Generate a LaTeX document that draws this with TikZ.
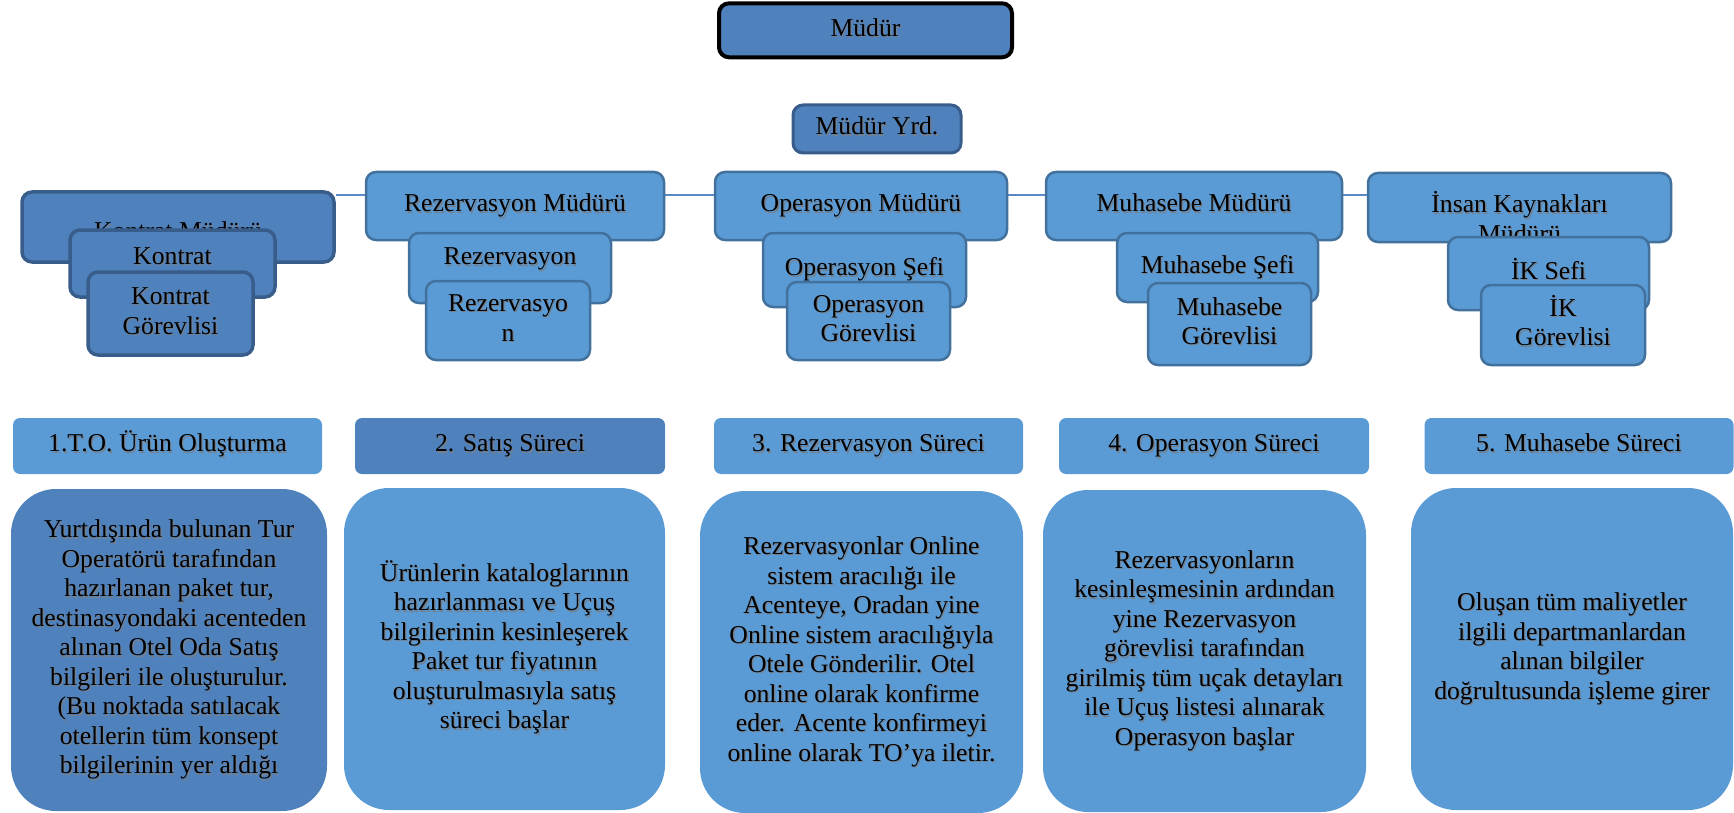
\documentclass[tikz,border=0pt]{standalone}
\usepackage{fontspec}
\setmainfont{Liberation Serif}
\usetikzlibrary{backgrounds}

\definecolor{lightfill}{HTML}{5B9BD5}
\definecolor{darkfill}{HTML}{4F81BD}
\definecolor{lightedge}{HTML}{41719C}
\definecolor{darkedge}{HTML}{385D8A}
\definecolor{linkline}{HTML}{5A8AC6}
\definecolor{textshade}{HTML}{3A4A5C}

% centred block of lines
\newcommand\linesblock[1]{\begin{tabular}{@{}c@{}}#1\end{tabular}}
% the same block with a soft drop shadow behind it
\newcommand\shadedlines[1]{\leavevmode\rlap{\kern1.3pt\raisebox{-1.3pt}[0pt][0pt]{\color{textshade!70}\linesblock{#1}}}\linesblock{#1}}
% optionally lifted without changing its size
\newcommand\boxtext[2][0pt]{\raisebox{#1}[\height][\depth]{\shadedlines{#2}}}

\tikzset{
  every node/.style={font=\fontsize{25.7}{29.5}\selectfont, text=black, inner sep=0pt},
  sz/.style 2 args={minimum width=#1pt, minimum height=#2pt},
  orgbox/.style={rectangle, draw=lightedge, fill=lightfill, line width=2.5pt, rounded corners=10pt},
  orgdark/.style={orgbox, draw=darkedge, fill=darkfill, line width=3.5pt},
  topbox/.style={orgbox, draw=black, fill=darkfill, line width=4pt},
  phase/.style={rectangle, fill=lightfill, rounded corners=7pt},
  phasedark/.style={phase, fill=darkfill},
  detail/.style={rectangle, fill=lightfill, rounded corners=45pt},
  detaildark/.style={detail, fill=darkfill},
  link/.style={draw=linkline, line width=2pt}
}

\begin{document}
\begin{tikzpicture}[x=1pt, y=-1pt]
\useasboundingbox (0,0) rectangle (1734,813);

% management
\node[topbox, sz={293}{54}] (mudur) at (865.5,30.3) {\boxtext{Müdür}};
\node[orgbox, draw=darkedge, fill=darkfill, line width=3pt, sz={168}{48}] (yrd) at (877,129) {\boxtext{Müdür Yrd.}};

% contract department
\node[orgdark, sz={312}{70}] (km) at (178,227) {\boxtext[-7pt]{Kontrat Müdürü}};
\node[orgdark, sz={205}{67}] (ks) at (172.5,263.5) {\boxtext[5pt]{Kontrat}};
\node[orgdark, sz={165}{83}] (kg) at (170.5,313.5) {\boxtext{Kontrat\\Görevlisi}};

% reservation department
\node[orgbox, sz={298}{68}] (rm) at (515,206) {\boxtext{Rezervasyon Müdürü}};
\node[orgbox, sz={202}{70}] (rs) at (510,268) {\boxtext[9pt]{Rezervasyon}};
\node[orgbox, sz={164}{79}] (rg) at (508,320.5) {\boxtext{Rezervasyo\\n}};

% operations department
\node[orgbox, sz={292}{68}] (om) at (861,206) {\boxtext{Operasyon Müdürü}};
\node[orgbox, sz={203}{74}] (os) at (864.5,270) {\boxtext{Operasyon Şefi}};
\node[orgbox, sz={163}{78}] (og) at (868.5,321) {\boxtext{Operasyon\\Görevlisi}};

% accounting department
\node[orgbox, sz={296}{68}] (mm) at (1194,206) {\boxtext{Muhasebe Müdürü}};
\node[orgbox, sz={201}{69}] (ms) at (1217.5,267.5) {\boxtext{Muhasebe Şefi}};
\node[orgbox, sz={163}{82}] (mg) at (1229.5,324) {\boxtext{Muhasebe\\Görevlisi}};

% human resources department
\node[orgbox, sz={303}{69}] (ikm) at (1519.5,207.5) {\boxtext[-14pt]{İnsan Kaynakları\\Müdürü}};
\node[orgbox, sz={201}{73}] (iks) at (1548.5,273.5) {\boxtext{İK Sefi}};
\node[orgbox, sz={164}{80}] (ikg) at (1563,325) {\boxtext{İK\\Görevlisi}};

% line joining the department heads
\begin{scope}[on background layer]
  \draw[link] ([yshift=32pt]km.east) -- ([yshift=12.5pt]ikm.west);
\end{scope}

% process phases
\node[phase, sz={309}{56}] (p1) at (167.5,446) {\boxtext{1.T.O. Ürün Oluşturma}};
\node[phasedark, sz={310}{56}] (p2) at (510,446) {\boxtext{2. Satış Süreci}};
\node[phase, sz={309}{56}] (p3) at (868.5,446) {\boxtext{3. Rezervasyon Süreci}};
\node[phase, sz={310}{56}] (p4) at (1214,446) {\boxtext{4. Operasyon Süreci}};
\node[phase, sz={309}{56}] (p5) at (1579,446) {\boxtext{5. Muhasebe Süreci}};

% phase descriptions
\node[detaildark, sz={316}{322}] (d1) at (169,650) {\boxtext{Yurtdışında bulunan Tur\\Operatörü tarafından\\hazırlanan paket tur,\\destinasyondaki acenteden\\alınan Otel Oda Satış\\bilgileri ile oluşturulur.\\(Bu noktada satılacak\\otellerin tüm konsept\\bilgilerinin yer aldığı}};
\node[detail, sz={321}{322}] (d2) at (504.5,649) {\boxtext{Ürünlerin kataloglarının\\hazırlanması ve Uçuş\\bilgilerinin kesinleşerek\\Paket tur fiyatının\\oluşturulmasıyla satış\\süreci başlar}};
\node[detail, sz={323}{322}] (d3) at (861.5,652) {\boxtext{Rezervasyonlar Online\\sistem aracılığı ile\\Acenteye, Oradan yine\\Online sistem aracılığıyla\\Otele Gönderilir. Otel\\online olarak konfirme\\eder. Acente konfirmeyi\\online olarak TO’ya iletir.}};
\node[detail, sz={323}{322}] (d4) at (1204.5,651) {\boxtext{Rezervasyonların\\kesinleşmesinin ardından\\yine Rezervasyon\\görevlisi tarafından\\girilmiş tüm uçak detayları\\ile Uçuş listesi alınarak\\Operasyon başlar}};
\node[detail, sz={322}{322}] (d5) at (1572,649) {\boxtext{Oluşan tüm maliyetler\\ilgili departmanlardan\\alınan bilgiler\\doğrultusunda işleme girer}};
\end{tikzpicture}
\end{document}
